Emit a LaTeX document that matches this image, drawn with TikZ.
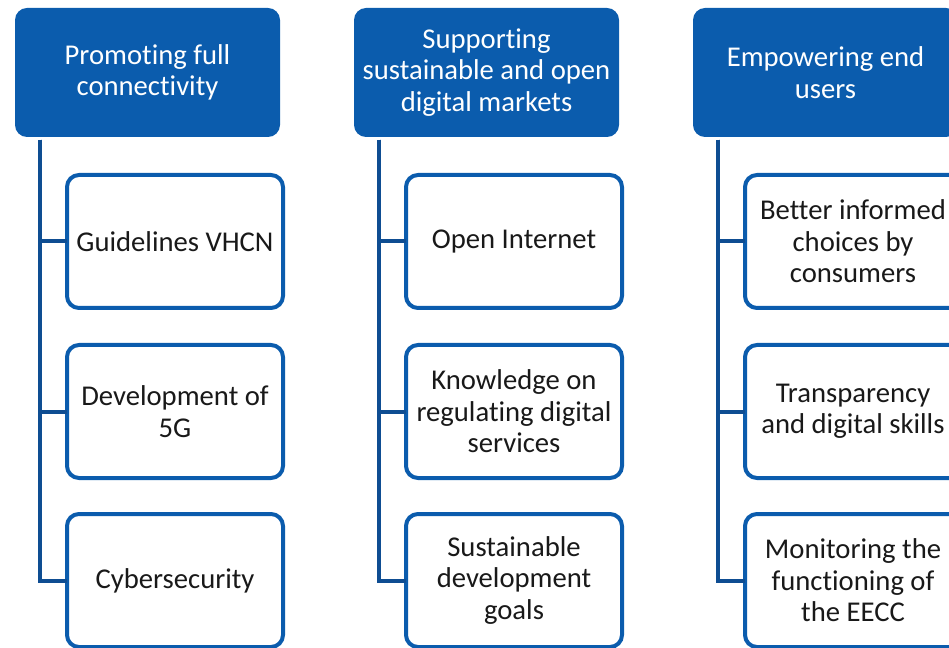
\documentclass[tikz,border=0pt]{standalone}
\usepackage{fontspec}
\setmainfont{Carlito}[RawFeature={-liga;-clig;-calt;-dlig}]
\definecolor{hdblue}{HTML}{0B5CAD}
\definecolor{lnblue}{HTML}{0E4D92}
\tikzset{
  head/.style={fill=hdblue, rounded corners=9pt, minimum width=198.75pt, minimum height=96.75pt,
    text=white, align=center, font=\fontsize{21.5}{23.6}\selectfont, inner sep=0pt, outer sep=0pt},
  item/.style={draw=hdblue, line width=3pt, fill=white, rounded corners=9pt, minimum width=162pt,
    minimum height=99.75pt, text=black!90, align=center, font=\fontsize{21.5}{23.6}\selectfont,
    inner sep=0pt, outer sep=0pt},
  link/.style={draw=lnblue, line width=3pt}
}
\begin{document}
\begin{tikzpicture}[x=0.75pt,y=-0.75pt]
	\useasboundingbox (0,0) rectangle (949,648); % page size of the reference
	% headers
	\node[head] (hdA) at (147.5,72.5) {Promoting full\\connectivity};
	\node[head] (hdB) at (486.5,72.5) {Supporting\\sustainable and open\\digital markets};
	\node[head] (hdC) at (825.5,72.5) {Empowering end\\users};
	% items
	\node[item] (cA1) at (175,241.5) {Guidelines VHCN};
	\node[item] (cA2) at (175,411.5) {Development of\\5G};
	\node[item] (cA3) at (175,580.5) {Cybersecurity};
	\node[item] (cB1) at (514,241.5) {Open Internet};
	\node[item] (cB2) at (514,411.5) {Knowledge on\\regulating digital\\services};
	\node[item] (cB3) at (514,580.5) {Sustainable\\development\\goals};
	\node[item] (cC1) at (853,241.5) {Better informed\\choices by\\consumers};
	\node[item] (cC2) at (853,411.5) {Transparency\\and digital skills};
	\node[item] (cC3) at (853,580.5) {Monitoring the\\functioning of\\the EECC};
	% spines
	\coordinate (spA) at ([xshift=18.75pt,yshift=-2pt]hdA.south west);
	\coordinate (spB) at ([xshift=18.75pt,yshift=-2pt]hdB.south west);
	\coordinate (spC) at ([xshift=18.75pt,yshift=-2pt]hdC.south west);
	\draw[link] (spA) |- (cA1.west);
	\draw[link] (spA) |- (cA2.west);
	\draw[link] (spA) |- (cA3.west);
	\draw[link] (spB) |- (cB1.west);
	\draw[link] (spB) |- (cB2.west);
	\draw[link] (spB) |- (cB3.west);
	\draw[link] (spC) |- (cC1.west);
	\draw[link] (spC) |- (cC2.west);
	\draw[link] (spC) |- (cC3.west);
\end{tikzpicture}
\end{document}
